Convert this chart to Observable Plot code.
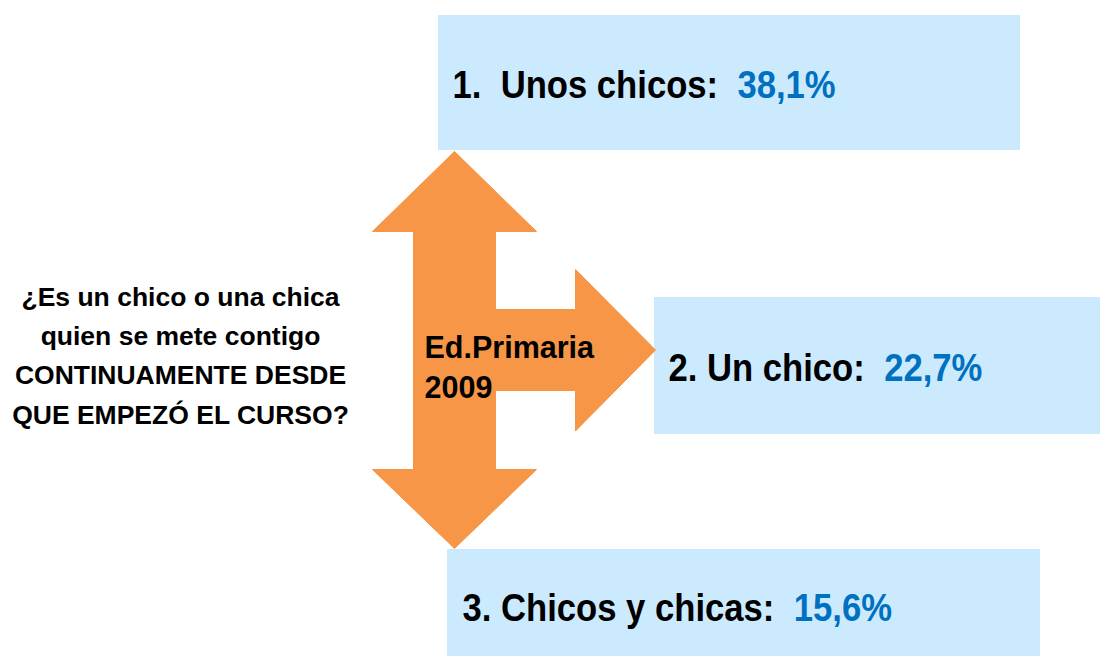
<!DOCTYPE html>
<html>
<head>
<meta charset="utf-8">
<script src="https://cdn.jsdelivr.net/npm/d3@7"></script>
<script src="https://cdn.jsdelivr.net/npm/@observablehq/plot@0.6"></script>
<style>
  html, body { margin: 0; padding: 0; background: #ffffff; }
  #chart svg { display: block; }
  #chart text { white-space: pre; }
</style>
</head>
<body>
<div id="chart"></div>
<script>
// ---- data ----
const categories = ["1.  Unos chicos:", "2. Un chico:", "3. Chicos y chicas:"];
const values = [38.1, 22.7, 15.6];
const questionLines = [
  "¿Es un chico o una chica",
  "quien se mete contigo",
  "CONTINUAMENTE DESDE",
  "QUE EMPEZÓ EL CURSO?"
];
const groupLabel = ["Ed.Primaria", "2009"];

// ---- layout (positions / sizes) ----
const W = 1100, H = 656;
const boxLayout = [
  {x1: 438, x2: 1020, y1: 15,  y2: 150, tx: 452, ty: 97},
  {x1: 654, x2: 1100, y1: 297, y2: 434, tx: 668, ty: 380},
  {x1: 447, x2: 1040, y1: 549, y2: 656, tx: 462, ty: 620}
];
// double-headed vertical arrow with a branch to the right
const arrowShape = [
  [454,151],[536,231],[495,231],[495,309],[575,309],[575,269],[655,349.5],
  [575,430.5],[575,390],[495,390],[495,469],[536,469],[454,548],[372,469],
  [413,469],[413,231],[372,231],[454,151]
].map(([x, y]) => ({x, y}));

// ---- styles ----
const FONT = "'Liberation Sans', Arial, Helvetica, sans-serif";
const boxFill = "#cceafe";
const arrowFill = "#f79646";
const valueColor = "#0070c0";
const labelSize = 38.5;
const squeeze = 0.9;

const fmt = v => d3.format(".1f")(v).replace(".", ",") + "%";

// measure label widths to place the blue values right after them
const ctx = document.createElement("canvas").getContext("2d");
ctx.font = `bold ${labelSize}px ${FONT}`;
const rows = categories.map((c, i) => {
  const L = boxLayout[i];
  const w = ctx.measureText(c + "  ").width * squeeze;
  return {label: c, value: fmt(values[i]), ...L, vx: L.tx + w};
});

const plot = Plot.plot({
  width: W,
  height: H,
  margin: 0,
  x: {domain: [0, W], range: [0, W], axis: null},
  y: {domain: [0, H], range: [0, H], axis: null},
  style: {fontFamily: FONT, background: "#ffffff"},
  marks: [
    Plot.rect(rows, {x1: "x1", x2: "x2", y1: "y1", y2: "y2", fill: boxFill}),
    Plot.line(arrowShape, {x: "x", y: "y", fill: arrowFill, stroke: arrowFill, strokeWidth: 1, curve: "linear"}),
    Plot.text(rows, {x: "tx", y: "ty", text: "label", textAnchor: "start", lineAnchor: "bottom",
      fontSize: labelSize, fontWeight: "bold", fill: "#000000", className: "squeeze"}),
    Plot.text(rows, {x: "vx", y: "ty", text: "value", textAnchor: "start", lineAnchor: "bottom",
      fontSize: labelSize, fontWeight: "bold", fill: valueColor, className: "squeeze"}),
    Plot.text([questionLines.join("\n")], {x: 180, y: 423, text: d => d, textAnchor: "middle",
      lineAnchor: "bottom", lineHeight: 1.483, fontSize: 26.5, fontWeight: "bold", fill: "#000000"}),
    Plot.text([groupLabel.join("\n")], {x: 424, y: 397, text: d => d, textAnchor: "start",
      lineAnchor: "bottom", lineHeight: 1.28, fontSize: 30.5, fontWeight: "bold", fill: "#000000"})
  ]
});

// horizontally condense the box labels (narrow bold look of the original)
plot.querySelectorAll("g.squeeze text, .squeeze text").forEach(t => {
  const tr = t.getAttribute("transform");
  if (tr) {
    t.setAttribute("transform", tr + ` scale(${squeeze},1)`);
  } else {
    const x = +t.getAttribute("x") || 0, y = +t.getAttribute("y") || 0;
    t.removeAttribute("x"); t.removeAttribute("y");
    t.setAttribute("transform", `translate(${x},${y}) scale(${squeeze},1)`);
  }
});
plot.querySelectorAll("text").forEach(t => t.setAttribute("xml:space", "preserve"));

document.getElementById("chart").appendChild(plot);
</script>
</body>
</html>
